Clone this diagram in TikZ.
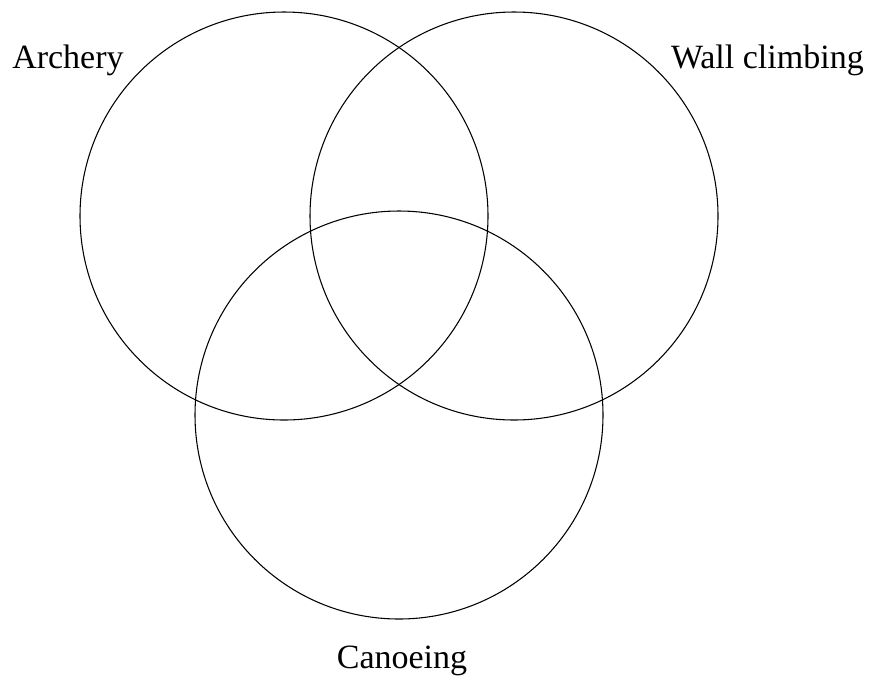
\documentclass[tikz,border=0pt]{standalone}
\usepackage{fontspec}
\setmainfont{Liberation Serif}
\usetikzlibrary{positioning}

\begin{document}
\begin{tikzpicture}[
    x=0.75pt, y=-0.75pt,
    % Set circle style
    set/.style={draw=black, circle, line width=0.8pt, minimum size=306pt, inner sep=0pt},
    % Set label style
    setlabel/.style={font=\fontsize{25.5}{30}\selectfont, inner sep=0pt, anchor=base}
]
\useasboundingbox (0,0) rectangle (870,676);

% ================= Sets =================
\node[set] (archery) at (284,216) {};
\node[set] (wall) at (514,216) {};
\node[set] (canoe) at (399,415) {};

% ================= Labels =================
\node[setlabel, anchor=base west] (lblA) at (12,68) {Archery};
\node[setlabel, anchor=base east] (lblW) at (864,68) {Wall climbing};
\node[setlabel] (lblC) at (402,668) {Canoeing};

\end{tikzpicture}
\end{document}
